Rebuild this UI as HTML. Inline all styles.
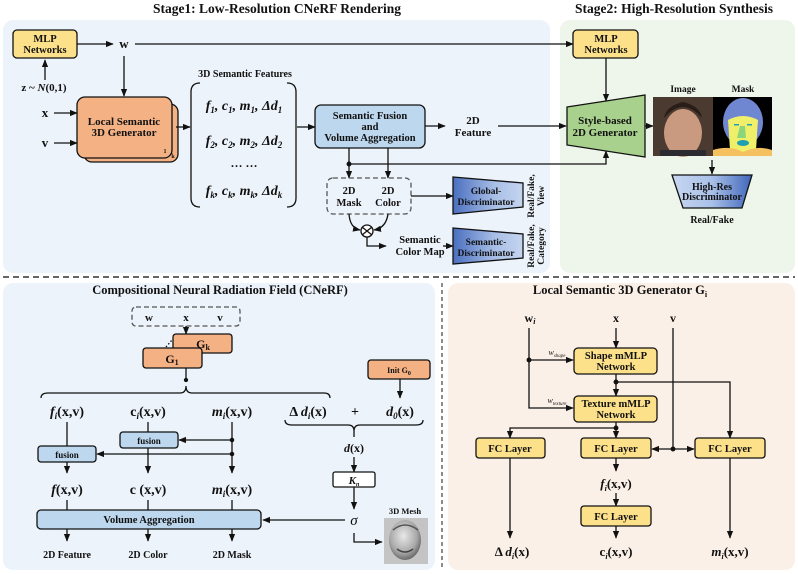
<!DOCTYPE html>
<html><head><meta charset="utf-8"><style>
html,body{margin:0;padding:0;background:#fff;}
svg{display:block;font-family:"Liberation Serif",serif;font-weight:bold;}
</style></head><body>
<svg width="798" height="574" viewBox="0 0 798 574" xmlns="http://www.w3.org/2000/svg">
<defs>
<marker id="a" viewBox="0 0 10 10" refX="9" refY="5" markerWidth="6" markerHeight="6" orient="auto"><path d="M0,1 L10,5 L0,9 z" fill="#111"/></marker>
<linearGradient id="dg" x1="0" y1="0" x2="1" y2="0"><stop offset="0" stop-color="#4a6fc0"/><stop offset="0.6" stop-color="#a9bfe6"/><stop offset="1" stop-color="#c5d5f0"/></linearGradient>
<linearGradient id="hg" x1="0" y1="0" x2="1" y2="0"><stop offset="0" stop-color="#c8d7f2"/><stop offset="0.5" stop-color="#a9c0e8"/><stop offset="1" stop-color="#3f66bb"/></linearGradient>
<radialGradient id="mg" cx="0.45" cy="0.4" r="0.6"><stop offset="0" stop-color="#e8e8e8"/><stop offset="0.7" stop-color="#a8a8a8"/><stop offset="1" stop-color="#6a6a6a"/></radialGradient>
</defs>
<g stroke="#111" stroke-width="1.3" fill="none">
<rect x="3" y="20" width="547" height="253" rx="10" fill="#edf3fa" stroke="none"/>
<rect x="560" y="20" width="235" height="253" rx="10" fill="#eef5ea" stroke="none"/>
<rect x="3" y="283" width="432" height="287" rx="10" fill="#edf3fa" stroke="none"/>
<rect x="448" y="283" width="347" height="287" rx="10" fill="#fbf0e8" stroke="none"/>
<line x1="3" y1="277" x2="795" y2="277" stroke="#666" stroke-width="2" stroke-dasharray="6,4"/>
<line x1="442" y1="283" x2="442" y2="570" stroke="#666" stroke-width="1.5" stroke-dasharray="4,3"/>

<rect x="13" y="30" width="64" height="28" rx="4" fill="#fde08a"/>
<line x1="77" y1="44" x2="113" y2="44" marker-end="url(#a)"/>
<line x1="135" y1="44" x2="573" y2="44" marker-end="url(#a)"/>
<line x1="45" y1="80" x2="45" y2="60" marker-end="url(#a)"/>
<line x1="124" y1="56" x2="124" y2="96" marker-end="url(#a)"/>
<rect x="84" y="104" width="94" height="58" rx="8" fill="#f4b183"/>
<rect x="77" y="97" width="95" height="61" rx="8" fill="#f4b183"/>
<line x1="54" y1="113" x2="77" y2="113" marker-end="url(#a)"/>
<line x1="54" y1="143" x2="77" y2="143" marker-end="url(#a)"/>
<line x1="176" y1="127" x2="190" y2="127" marker-end="url(#a)"/>
<path d="M200,83 Q191,83 191,92 L191,198 Q191,207 200,207"/>
<path d="M287,83 Q296,83 296,92 L296,198 Q296,207 287,207"/>
<line x1="297" y1="127" x2="315" y2="127" marker-end="url(#a)"/>
<rect x="315" y="105" width="110" height="43" rx="6" fill="#bdd7ee"/>
<line x1="425" y1="126" x2="445" y2="126" marker-end="url(#a)"/>
<line x1="498" y1="126" x2="566" y2="126" marker-end="url(#a)"/>
<line x1="349" y1="148" x2="349" y2="178" marker-end="url(#a)"/>
<line x1="388" y1="148" x2="388" y2="178" marker-end="url(#a)"/>
<polyline points="349,164 606,164 606,151" marker-end="url(#a)"/>
<circle cx="349" cy="164" r="1.8" fill="#111"/>
<rect x="327" y="178" width="84" height="36" rx="6" stroke="#555" stroke-dasharray="5,3"/>
<line x1="411" y1="196" x2="453" y2="196" marker-end="url(#a)"/>
<polygon points="453,177 523,183 523,207 453,214" fill="url(#dg)"/>
<circle cx="367" cy="231" r="6" fill="#fff"/>
<path d="M362,227 L372,235 M372,227 L362,235"/>
<path d="M349,214 Q350,228 360,230" marker-end="url(#a)"/>
<path d="M388,214 Q386,228 374,230" marker-end="url(#a)"/>
<polyline points="367,237 367,246 386,246" marker-end="url(#a)"/>
<line x1="443" y1="246" x2="453" y2="246" marker-end="url(#a)"/>
<polygon points="453,228 523,234 523,258 453,264" fill="url(#dg)"/>

<rect x="573" y="30" width="65" height="28" rx="4" fill="#fde08a"/>
<line x1="606" y1="58" x2="606" y2="101" marker-end="url(#a)"/>
<polygon points="567,107 645,95 645,157 567,145" fill="#a9d18e"/>
<line x1="645" y1="126" x2="653" y2="126" marker-end="url(#a)"/>
<line x1="712" y1="160" x2="712" y2="174" marker-end="url(#a)"/>
<polygon points="672,175 752,175 742,208 683,208" fill="url(#hg)"/>

<rect x="132" y="307" width="108" height="19" rx="4" stroke="#555" stroke-dasharray="5,3"/>
<line x1="186" y1="326" x2="186" y2="334" marker-end="url(#a)"/>
<rect x="173" y="334" width="59" height="19" rx="3" fill="#f4b183"/>
<rect x="143" y="348" width="59" height="20" rx="3" fill="#f4b183"/>
<line x1="166" y1="347" x2="172" y2="340" stroke-dasharray="1.5,2"/>
<line x1="186" y1="368" x2="186" y2="382"/>
<circle cx="186" cy="380" r="1.5" fill="#111"/>
<path d="M41,398 Q41,393 48,393 L180,393 Q186,393 186,386 Q186,393 192,393 L324,393 Q330,393 330,398"/>
<rect x="368" y="360" width="62" height="19" rx="3" fill="#f4b183"/>
<line x1="400" y1="379" x2="400" y2="398" marker-end="url(#a)"/>
<path d="M285,420 Q285,425 292,425 L348,425 Q354,425 354,431 Q354,425 360,425 L416,425 Q423,425 423,420"/>
<line x1="354" y1="431" x2="354" y2="437"/>
<line x1="67" y1="422" x2="67" y2="446"/>
<line x1="67" y1="462" x2="67" y2="473" marker-end="url(#a)"/>
<line x1="148" y1="422" x2="148" y2="432"/>
<line x1="148" y1="448" x2="148" y2="473" marker-end="url(#a)"/>
<line x1="232" y1="422" x2="232" y2="473" marker-end="url(#a)"/>
<line x1="232" y1="440" x2="179" y2="440" marker-end="url(#a)"/>
<line x1="232" y1="454" x2="97" y2="454" marker-end="url(#a)"/>
<circle cx="232" cy="440" r="1.6" fill="#111"/><circle cx="232" cy="454" r="1.6" fill="#111"/>
<rect x="120" y="432" width="58" height="16" rx="3" fill="#bdd7ee"/>
<rect x="38" y="446" width="58" height="16" rx="3" fill="#bdd7ee"/>
<line x1="67" y1="500" x2="67" y2="510"/><line x1="148" y1="500" x2="148" y2="510"/><line x1="232" y1="500" x2="232" y2="510"/>
<rect x="37" y="510" width="224" height="19" rx="4" fill="#bdd7ee"/>
<line x1="67" y1="529" x2="67" y2="541" marker-end="url(#a)"/>
<line x1="148" y1="529" x2="148" y2="541" marker-end="url(#a)"/>
<line x1="232" y1="529" x2="232" y2="541" marker-end="url(#a)"/>
<line x1="354" y1="457" x2="354" y2="472" marker-end="url(#a)"/>
<rect x="333" y="472" width="42" height="15" rx="2" fill="#fff"/>
<line x1="354" y1="487" x2="354" y2="509" marker-end="url(#a)"/>
<line x1="345" y1="520" x2="263" y2="520" marker-end="url(#a)"/>
<polyline points="354,533 354,542 382,542" marker-end="url(#a)"/>

<polyline points="529,328 529,408 573,408" marker-end="url(#a)"/>
<line x1="529" y1="360" x2="573" y2="360" marker-end="url(#a)"/>
<circle cx="529" cy="360" r="1.8" fill="#111"/>
<line x1="616" y1="328" x2="616" y2="348" marker-end="url(#a)"/>
<rect x="574" y="348" width="83" height="26" rx="4" fill="#fde08a"/>
<line x1="616" y1="374" x2="616" y2="396" marker-end="url(#a)"/>
<polyline points="616,382 730,382 730,438" marker-end="url(#a)"/>
<circle cx="616" cy="382" r="1.8" fill="#111"/>
<rect x="574" y="396" width="83" height="26" rx="4" fill="#fde08a"/>
<line x1="616" y1="422" x2="616" y2="438" marker-end="url(#a)"/>
<polyline points="616,428 510,428 510,438" marker-end="url(#a)"/>
<circle cx="616" cy="428" r="1.8" fill="#111"/>
<rect x="476" y="438" width="69" height="20" rx="3" fill="#fde08a"/>
<rect x="581" y="438" width="70" height="20" rx="3" fill="#fde08a"/>
<rect x="695" y="438" width="70" height="20" rx="3" fill="#fde08a"/>
<line x1="673" y1="328" x2="673" y2="449"/>
<line x1="673" y1="449" x2="652" y2="449" marker-end="url(#a)"/>
<line x1="673" y1="449" x2="694" y2="449" marker-end="url(#a)"/>
<circle cx="673" cy="449" r="1.8" fill="#111"/>
<line x1="510" y1="458" x2="510" y2="538" marker-end="url(#a)"/>
<line x1="616" y1="458" x2="616" y2="471" marker-end="url(#a)"/>
<line x1="616" y1="493" x2="616" y2="506" marker-end="url(#a)"/>
<rect x="581" y="506" width="70" height="20" rx="3" fill="#fde08a"/>
<line x1="616" y1="526" x2="616" y2="538" marker-end="url(#a)"/>
<line x1="730" y1="458" x2="730" y2="538" marker-end="url(#a)"/>
</g>

<rect x="653" y="97" width="60" height="59" fill="#4a3a30"/>
<ellipse cx="683" cy="133" rx="19" ry="24" fill="#c99a80"/>
<path d="M664,118 Q683,96 702,118 Q700,106 683,102 Q666,106 664,118z" fill="#2a1c16"/>
<rect x="660" y="150" width="46" height="6" fill="#2a2a30"/>
<rect x="713" y="97" width="59" height="59" fill="#000"/>
<ellipse cx="743" cy="122" rx="20" ry="24" fill="#6f86d0"/>
<path d="M728,120 Q743,112 758,120 L756,150 Q743,158 730,150z" fill="#f0ef6a"/>
<path d="M713,156 L713,150 Q730,145 743,152 Q758,145 772,150 L772,156z" fill="#f5c060"/>
<ellipse cx="743" cy="143" rx="6" ry="3" fill="#1ea0b0"/>
<path d="M740,126 L737,138 L746,138 L745,126z" fill="#8bd67a"/>
<rect x="734" y="124" width="5" height="1.5" fill="#1ea0b0"/><rect x="747" y="124" width="5" height="1.5" fill="#1ea0b0"/>
<rect x="384" y="518" width="44" height="46" fill="#c4c4c4"/>
<ellipse cx="405" cy="540" rx="16" ry="20" fill="url(#mg)"/>
<path d="M393,530 Q405,520 418,530" stroke="#555" stroke-width="1.5" fill="none"/>
<path d="M397,549 Q405,555 413,549" stroke="#444" stroke-width="1.5" fill="none"/>

<g fill="#111" font-size="10.5" text-anchor="middle">
<text x="277" y="13" font-size="13.5">Stage1: Low-Resolution CNeRF Rendering</text>
<text x="674" y="13" font-size="13.5">Stage2: High-Resolution Synthesis</text>
<text x="45" y="42">MLP</text><text x="45" y="53">Networks</text>
<text x="606" y="42">MLP</text><text x="606" y="53">Networks</text>
<text x="124" y="48" font-size="13">w</text>
<text x="44" y="91" font-size="11">z ~ <tspan font-style="italic">N</tspan>(0,1)</text>
<text x="45" y="117" font-size="13">x</text><text x="45" y="147" font-size="13">v</text>
<text x="124" y="125" font-size="11">Local Semantic</text><text x="124" y="136" font-size="11">3D Generator</text>
<text x="165" y="153" font-size="6">1</text><text x="173" y="158" font-size="6">k</text>
<text x="245" y="77" font-size="10">3D Semantic Features</text>
<g font-style="italic" font-size="14">
<text x="244" y="110">f<tspan font-size="9" dy="3">1</tspan><tspan dy="-3">, c</tspan><tspan font-size="9" dy="3">1</tspan><tspan dy="-3">, m</tspan><tspan font-size="9" dy="3">1</tspan><tspan dy="-3">,  Δd</tspan><tspan font-size="9" dy="3">1</tspan></text>
<text x="244" y="145">f<tspan font-size="9" dy="3">2</tspan><tspan dy="-3">, c</tspan><tspan font-size="9" dy="3">2</tspan><tspan dy="-3">, m</tspan><tspan font-size="9" dy="3">2</tspan><tspan dy="-3">,  Δd</tspan><tspan font-size="9" dy="3">2</tspan></text>
<text x="244" y="195">f<tspan font-size="9" dy="3">k</tspan><tspan dy="-3">, c</tspan><tspan font-size="9" dy="3">k</tspan><tspan dy="-3">, m</tspan><tspan font-size="9" dy="3">k</tspan><tspan dy="-3">,  Δd</tspan><tspan font-size="9" dy="3">k</tspan></text>
</g>
<text x="244" y="167" font-size="12">… …</text>
<text x="370" y="119">Semantic Fusion</text><text x="370" y="130">and</text><text x="370" y="141">Volume Aggregation</text>
<text x="473" y="124" font-size="11">2D</text><text x="473" y="136" font-size="11">Feature</text>
<text x="349" y="194">2D</text><text x="349" y="206">Mask</text>
<text x="388" y="194">2D</text><text x="388" y="206">Color</text>
<text x="486" y="194" font-size="9.5">Global-</text><text x="486" y="205" font-size="9.5">Discriminator</text>
<text x="486" y="245" font-size="9.5">Semantic-</text><text x="486" y="256" font-size="9.5">Discriminator</text>
<text x="420" y="243" font-size="10.5">Semantic</text><text x="420" y="255" font-size="10.5">Color Map</text>
<text transform="translate(534,196) rotate(-90)" font-size="9.5">Real/Fake,</text>
<text transform="translate(544,196) rotate(-90)" font-size="9.5">View</text>
<text transform="translate(534,246) rotate(-90)" font-size="9.5">Real/Fake,</text>
<text transform="translate(544,246) rotate(-90)" font-size="9.5">Category</text>
<text x="605" y="124" font-size="11">Style-based</text><text x="605" y="136" font-size="11">2D Generator</text>
<text x="683" y="92" font-size="9.5">Image</text><text x="743" y="92" font-size="9.5">Mask</text>
<text x="712" y="190" font-size="10">High-Res</text><text x="712" y="200" font-size="10">Discriminator</text>
<text x="712" y="223" font-size="10">Real/Fake</text>

<text x="220" y="294" font-size="12.5">Compositional Neural Radiation Field (CNeRF)</text>
<text x="149" y="321" font-size="11">w</text><text x="186" y="321" font-size="11">x</text><text x="220" y="321" font-size="11">v</text>
<text x="203" y="348" font-size="12">G<tspan font-size="8" dy="2">k</tspan></text>
<text x="172" y="363" font-size="12">G<tspan font-size="8" dy="2">1</tspan></text>
<text x="399" y="373" font-size="8">Init G<tspan font-size="6" dy="2">0</tspan></text>
<g font-size="14">
<text x="67" y="416"><tspan font-style="italic">f<tspan font-size="9" dy="3">i</tspan></tspan><tspan dy="-3">(x,v)</tspan></text>
<text x="148" y="416">c<tspan font-size="9" dy="3" font-style="italic">i</tspan><tspan dy="-3">(x,v)</tspan></text>
<text x="232" y="416"><tspan font-style="italic">m<tspan font-size="9" dy="3">i</tspan></tspan><tspan dy="-3">(x,v)</tspan></text>
<text x="308" y="416">Δ <tspan font-style="italic">d<tspan font-size="9" dy="3">i</tspan></tspan><tspan dy="-3">(x)</tspan></text>
<text x="355" y="416">+</text>
<text x="400" y="416"><tspan font-style="italic">d<tspan font-size="9" dy="3">0</tspan></tspan><tspan dy="-3">(x)</tspan></text>
<text x="67" y="494"><tspan font-style="italic">f</tspan>(x,v)</text>
<text x="148" y="494">c (x,v)</text>
<text x="232" y="494"><tspan font-style="italic">m<tspan font-size="9" dy="3">i</tspan></tspan><tspan dy="-3">(x,v)</tspan></text>
</g>
<text x="149" y="444" font-size="9">fusion</text><text x="67" y="458" font-size="9">fusion</text>
<text x="354" y="452" font-size="12"><tspan font-style="italic">d</tspan>(x)</text>
<text x="354" y="484" font-size="11" font-style="italic">K<tspan font-size="6" dy="2">n</tspan></text>
<text x="354" y="525" font-size="15" font-style="italic" font-weight="normal">σ</text>
<text x="149" y="523" font-size="10.5">Volume Aggregation</text>
<text x="67" y="558" font-size="10">2D Feature</text><text x="148" y="558" font-size="10">2D Color</text><text x="232" y="558" font-size="10">2D Mask</text>
<text x="405" y="514" font-size="8.5">3D Mesh</text>

<text x="620" y="294" font-size="12.5">Local Semantic 3D Generator G<tspan font-size="8" dy="3">i</tspan></text>
<text x="530" y="322" font-size="12">w<tspan font-size="8" dy="2" font-style="italic">i</tspan></text>
<text x="616" y="322" font-size="12">x</text><text x="673" y="322" font-size="12">v</text>
<text x="557" y="355" font-size="8" font-style="italic" font-weight="normal">w<tspan font-size="5" dy="2">shape</tspan></text>
<text x="557" y="403" font-size="8" font-style="italic" font-weight="normal">w<tspan font-size="5" dy="2">texture</tspan></text>
<text x="616" y="359">Shape mMLP</text><text x="616" y="370">Network</text>
<text x="616" y="407">Texture mMLP</text><text x="616" y="418">Network</text>
<text x="510" y="452">FC Layer</text><text x="616" y="452">FC Layer</text><text x="730" y="452">FC Layer</text>
<text x="616" y="520">FC Layer</text>
<g font-size="13">
<text x="616" y="488"><tspan font-style="italic">f<tspan font-size="8" dy="3">i</tspan></tspan><tspan dy="-3">(x,v)</tspan></text>
<text x="512" y="556">Δ <tspan font-style="italic">d<tspan font-size="8" dy="3">i</tspan></tspan><tspan dy="-3">(x)</tspan></text>
<text x="616" y="556">c<tspan font-size="8" dy="3" font-style="italic">i</tspan><tspan dy="-3">(x,v)</tspan></text>
<text x="730" y="556"><tspan font-style="italic">m<tspan font-size="8" dy="3">i</tspan></tspan><tspan dy="-3">(x,v)</tspan></text>
</g>
</g>
</svg>
</body></html>
